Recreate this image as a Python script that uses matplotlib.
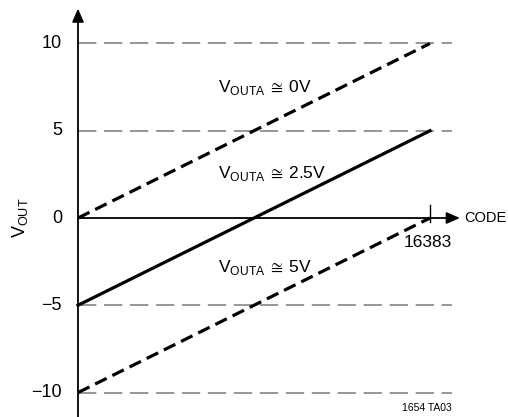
import numpy as np
import matplotlib
matplotlib.use('Agg')
import matplotlib.pyplot as plt

# chart data
codes = [0, 16383]
vouta_0v = [0, 10]
vouta_25v = [-5, 5]
vouta_5v = [-10, 0]
ytick_vals = [-10, -5, 0, 5, 10]
ytick_labels = ['\u221210', '\u22125', '0', '5', '10']
grid_levels = [-10, -5, 5, 10]
curve_labels = ['0V', '2.5V', '5V']
label_pos = [(6516, 7.2), (6516, 2.3), (6516, -3.1)]

plt.rcParams['font.family'] = ['Liberation Sans', 'DejaVu Sans']
plt.rcParams['mathtext.fontset'] = 'custom'
plt.rcParams['mathtext.rm'] = 'Liberation Sans'

fig = plt.figure(figsize=(5.08, 4.17), dpi=100)
ax = fig.add_axes([0, 0, 1, 1])
ax.set_xlim(-3630, 20013)
ax.set_ylim(-11.4, 12.49)
ax.axis('off')

xmax = codes[-1]
grid_end = xmax * 1.063

# dashed gray reference lines
for g in grid_levels:
    ax.plot([0, grid_end], [g, g], color='#7a7a7a', lw=1.1, dashes=(12, 5))

# axes with arrows
ax.annotate('', xy=(0, 12.0), xytext=(0, -11.4),
            arrowprops=dict(arrowstyle='-|>,head_length=0.8,head_width=0.35',
                            color='black', lw=1.3, shrinkA=0, shrinkB=0))
ax.annotate('', xy=(xmax * 1.085, 0), xytext=(0, 0),
            arrowprops=dict(arrowstyle='-|>,head_length=0.8,head_width=0.35',
                            color='black', lw=1.3, shrinkA=0, shrinkB=0))
ax.plot([xmax, xmax], [-0.2, 0.75], color='black', lw=1.0)

# transfer lines
ax.plot(codes, vouta_0v, color='black', lw=2.3, dashes=(4.0, 2.0))
ax.plot(codes, vouta_25v, color='black', lw=2.3)
ax.plot(codes, vouta_5v, color='black', lw=2.3, dashes=(4.0, 2.0))

# tick labels
for v, lab in zip(ytick_vals, ytick_labels):
    ax.text(-745, v, lab, ha='right', va='center', fontsize=13)

ax.text(xmax * 1.063, -1.0, '16383', ha='right', va='top', fontsize=12.5)
ax.text(xmax * 1.098, 0, 'CODE', ha='left', va='center', fontsize=10.5)
ax.text(-2700, 0, r'V$_{\mathregular{OUT}}$', rotation=90, ha='center',
        va='center', fontsize=13)

for (x, y), lab in zip(label_pos, curve_labels):
    ax.text(x, y, r'V$_{\mathregular{OUTA}}\,{\cong}\,$' + lab, ha='left',
            va='baseline', fontsize=12.5)

ax.text(grid_end, -10.9, '1654 TA03', ha='right', va='center', fontsize=7.5)

fig.savefig('out.png', dpi=100)
